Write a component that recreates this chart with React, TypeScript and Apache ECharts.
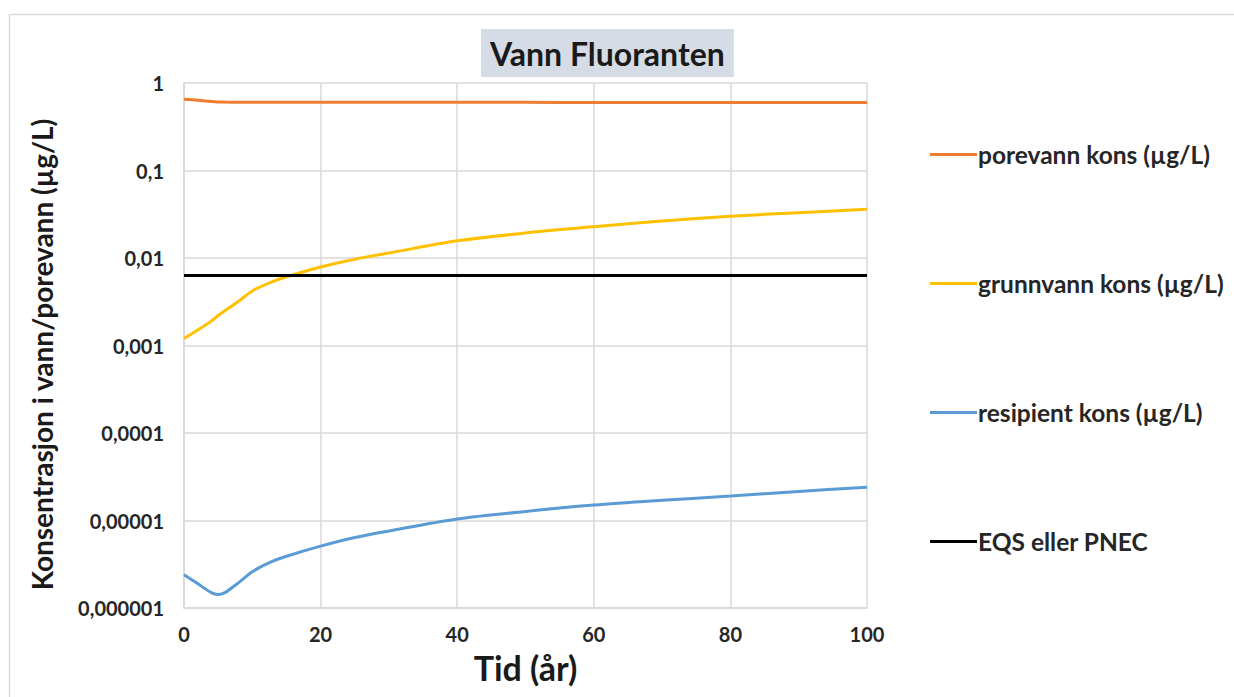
import React, { useEffect, useRef } from "react";
import * as echarts from "echarts";

const title = "Vann Fluoranten";
const xAxisName = "Tid (år)";
const yAxisName = "Konsentrasjon i vann/porevann (µg/L)";
const xTicks = [0, 20, 40, 60, 80, 100];
const yTickLabels = ["0,000001", "0,00001", "0,0001", "0,001", "0,01", "0,1", "1"];
const seriesNames = [
  "porevann kons (µg/L)",
  "grunnvann kons (µg/L)",
  "resipient kons (µg/L)",
  "EQS eller PNEC",
];
const time = [0, 2, 4, 5, 6, 8, 10, 12.5, 15, 20, 25, 30, 40, 50, 60, 70, 80, 90, 100];
const porevann = [0.65, 0.635, 0.615, 0.608, 0.605, 0.604, 0.603, 0.603, 0.603, 0.603, 0.602, 0.602, 0.601, 0.601, 0.6, 0.6, 0.6, 0.6, 0.598];
const grunnvann = [0.0012, 0.0015, 0.0019, 0.0022, 0.0025, 0.0032, 0.0042, 0.0052, 0.0061, 0.0079, 0.0097, 0.0114, 0.0157, 0.0193, 0.0228, 0.0265, 0.03, 0.033, 0.036];
const resipient = [2.4e-6, 1.9e-6, 1.5e-6, 1.43e-6, 1.5e-6, 1.95e-6, 2.6e-6, 3.3e-6, 3.9e-6, 5.1e-6, 6.4e-6, 7.6e-6, 1.04e-5, 1.27e-5, 1.5e-5, 1.7e-5, 1.9e-5, 2.15e-5, 2.4e-5];
const eqsTime = [0, 100];
const eqsValue = [0.0063, 0.0063];
const colors = ["#ED7D31", "#FFC000", "#5B9BD5", "#000000"];

const FONT = "Lato";

export default function App() {
  const ref = useRef<HTMLDivElement>(null);
  useEffect(() => {
    if (!ref.current) return;
    const chart = echarts.init(ref.current, null, { renderer: "svg" });
    const pair = (xs: number[], ys: number[]) => xs.map((x, i) => [x, ys[i]]);
    const fmtY = (v: number) => {
      const idx = Math.round(Math.log10(v)) + 6;
      return yTickLabels[idx] ?? "";
    };
    chart.setOption({
      animation: false,
      backgroundColor: "#ffffff",
      graphic: [
        {
          type: "rect",
          shape: { x: 9.5, y: 14.5, width: 1240, height: 700 },
          style: { fill: "none", stroke: "#dcdcdc", lineWidth: 1.5 },
          silent: true,
        },
      ],
      title: {
        text: title,
        left: 481,
        top: 29,
        backgroundColor: "#d6dce5",
        padding: [6, 9, 6, 9],
        textStyle: { fontFamily: FONT, fontWeight: "bold", fontSize: 32, lineHeight: 36, color: "#1a1a1a" },
      },
      grid: { left: 184, right: 367, top: 83, bottom: 89 },
      legend: {
        orient: "vertical",
        left: 925,
        top: 137,
        itemWidth: 47,
        itemHeight: 3,
        itemGap: 104,
        icon: "rect",
        textStyle: { fontFamily: FONT, fontWeight: "bold", fontSize: 24.5, color: "#262626", lineHeight: 24, padding: [0, 0, 0, -4] },
        data: seriesNames,
      },
      xAxis: {
        type: "value",
        min: 0,
        max: 100,
        interval: 20,
        name: xAxisName,
        nameLocation: "middle",
        nameGap: 42,
        nameTextStyle: { fontFamily: FONT, fontWeight: "bold", fontSize: 34, color: "#1a1a1a" },
        axisLine: { show: true, lineStyle: { color: "#d9d9d9", width: 1.5 } },
        axisTick: { show: false },
        axisLabel: {
          fontFamily: FONT,
          fontWeight: "bold",
          fontSize: 20,
          color: "#262626",
          margin: 16,
          formatter: (v: number) => (xTicks.includes(v) ? String(v) : ""),
        },
        splitLine: { show: true, lineStyle: { color: "#d9d9d9", width: 1.5 } },
      },
      yAxis: {
        type: "log",
        logBase: 10,
        min: 1e-6,
        max: 1,
        name: yAxisName,
        nameLocation: "middle",
        nameGap: 128,
        nameTextStyle: { fontFamily: FONT, fontWeight: "bold", fontSize: 28, color: "#1a1a1a", padding: [0, 18, 0, 0] },
        axisLine: { show: true, lineStyle: { color: "#d9d9d9", width: 1.5 } },
        axisTick: { show: false },
        axisLabel: {
          fontFamily: FONT,
          fontWeight: "bold",
          fontSize: 20,
          color: "#262626",
          margin: 20,
          formatter: fmtY,
        },
        splitLine: { show: true, lineStyle: { color: "#d9d9d9", width: 1.5 } },
      },
      series: [
        { name: seriesNames[0], type: "line", data: pair(time, porevann), smooth: 0.3, showSymbol: false, lineStyle: { color: colors[0], width: 3 }, itemStyle: { color: colors[0] } },
        { name: seriesNames[1], type: "line", data: pair(time, grunnvann), smooth: 0.3, showSymbol: false, lineStyle: { color: colors[1], width: 3 }, itemStyle: { color: colors[1] } },
        { name: seriesNames[2], type: "line", data: pair(time, resipient), smooth: 0.3, showSymbol: false, lineStyle: { color: colors[2], width: 3 }, itemStyle: { color: colors[2] } },
        { name: seriesNames[3], type: "line", data: pair(eqsTime, eqsValue), showSymbol: false, lineStyle: { color: colors[3], width: 3 }, itemStyle: { color: colors[3] } },
      ],
    });
    return () => chart.dispose();
  }, []);
  return <div ref={ref} style={{ position: "absolute", left: 0, top: 0, width: 1234, height: 697 }} />;
}
